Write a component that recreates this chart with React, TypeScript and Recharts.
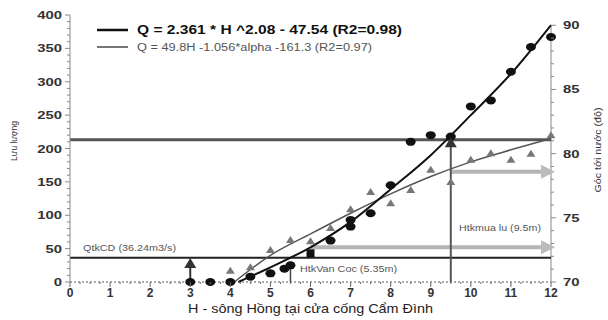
import { ComposedChart, Line, Scatter, XAxis, YAxis, ReferenceLine } from 'recharts'

// measured points (circles = Q do duoc, triangles = Q theo goc toi nuoc)
const circleH = [3, 3.5, 4, 4.5, 5, 5.35, 5.5, 6.5, 7, 7, 7.5, 8, 8.5, 9, 9.5, 10, 10.5, 11, 11.5, 12]
const circleQ = [0, 0, 0, 8, 13, 20, 25, 62, 83, 93, 103, 145, 210, 220, 218, 263, 272, 315, 352, 367]
const triH = [4, 4.5, 5, 5.5, 6, 6.5, 7, 7.5, 8, 8.5, 9, 9.5, 10, 10.5, 11, 11.5, 12]
const triQ = [17, 22, 48, 63, 61, 81, 109, 135, 118, 138, 168, 150, 183, 193, 183, 192, 220]
const squareH = [6]
const squareQ = [43]

// fitted curves
const fit1H = [4.2, 5, 6, 7, 8, 9, 10, 11, 12]
const fit1Q = [0, 22, 52, 90, 139, 190, 250, 312, 385]
const fit2H = [4.1, 5, 6, 7, 8, 9, 10, 11, 12]
const fit2Q = [0, 40, 72, 103, 132, 158, 180, 198, 215]

// markers / thresholds
const upArrowH = [3, 9.5]
const upArrowQ = [27, 208]
const sideArrowH = [12, 12]
const sideArrowQ = [165, 52]
const qMua = 213
const qTkCD = 36.24

const xMajor = [0, 1, 2, 3, 4, 5, 6, 7, 8, 9, 10, 11, 12]
const leftMajor = [0, 50, 100, 150, 200, 250, 300, 350, 400]
const rightMajor = [70, 75, 80, 85, 90]

const xTicks: number[] = []
for (let i = 0; i <= 48; i++) xTicks.push(i / 4)
const leftTicks: number[] = []
for (let i = 0; i <= 40; i++) leftTicks.push(i * 10)
const rightTicks: number[] = []
for (let i = 70; i <= 90; i++) rightTicks.push(i)

const zip = (h: number[], q: number[]) => h.map((v, i) => ({ h: v, q: q[i] }))

const circles = zip(circleH, circleQ)
const triangles = zip(triH, triQ)
const squares = zip(squareH, squareQ)
const fit1 = zip(fit1H, fit1Q)
const fit2 = zip(fit2H, fit2Q)
const upArrows = zip(upArrowH, upArrowQ)
const sideArrows = zip(sideArrowH, sideArrowQ)

const FONT = '"Liberation Sans", Arial, sans-serif'

const LeftTick = (props: any) => {
  const { x, y, payload } = props
  const v = payload.value
  const major = leftMajor.includes(v)
  return (
    <g>
      <line x1={x} x2={x - (major ? 5 : 3)} y1={y} y2={y} stroke="#888" />
      {major && (
        <text transform={`translate(${x - 8},${y + 4}) scale(1.35,1)`} textAnchor="end" fontSize={11} fontWeight={700} fill="#333" fontFamily={FONT}>
          {v}
        </text>
      )}
    </g>
  )
}

const RightTick = (props: any) => {
  const { x, y, payload } = props
  const v = payload.value
  const major = rightMajor.includes(v)
  return (
    <g>
      <line x1={x} x2={x + (major ? 5 : 3)} y1={y} y2={y} stroke="#888" />
      {major && (
        <text transform={`translate(${x + 12},${y + 4}) scale(1.35,1)`} textAnchor="start" fontSize={11} fontWeight={700} fill="#333" fontFamily={FONT}>
          {v}
        </text>
      )}
    </g>
  )
}

const BottomTick = (props: any) => {
  const { x, y, payload } = props
  const v = payload.value
  const major = xMajor.includes(v)
  return (
    <g>
      <line x1={x} x2={x} y1={y} y2={y + (major ? 5 : 2)} stroke="#666" />
      {major && (
        <text x={x} y={y + 15} textAnchor="middle" fontSize={12} fontWeight={700} fill="#333" fontFamily={FONT}>
          {v}
        </text>
      )}
    </g>
  )
}

const Dot = (p: any) => <ellipse cx={p.cx} cy={p.cy} rx={5} ry={4} fill="#111" />
const Tri = (p: any) => (
  <path d={`M${p.cx},${p.cy - 4} L${p.cx + 4.5},${p.cy + 3} L${p.cx - 4.5},${p.cy + 3} Z`} fill="#777" />
)
const Sq = (p: any) => <rect x={p.cx - 4} y={p.cy - 4} width={8} height={8} fill="#111" />
const UpArrow = (p: any) => (
  <path d={`M${p.cx},${p.cy - 6} L${p.cx + 6},${p.cy + 4} L${p.cx - 6},${p.cy + 4} Z`} fill="#333" />
)
const SideArrow = (p: any) => (
  <path d={`M${p.cx + 4},${p.cy} L${p.cx - 10},${p.cy - 7} L${p.cx - 10},${p.cy + 7} Z`} fill="#bbb" />
)

export default function App() {
  return (
    <div style={{ position: 'absolute', left: 0, top: 0, width: 608, height: 320, background: '#fff' }}>
      <ComposedChart width={608} height={320} margin={{ top: 15, right: 0, bottom: 0, left: 0 }}>
        <XAxis
          type="number"
          dataKey="h"
          domain={[0, 12]}
          ticks={xTicks}
          interval={0}
          height={38}
          tickSize={0}
          tickMargin={0}
          tickLine={false}
          axisLine={{ stroke: '#555', strokeDasharray: '2 2' }}
          tick={BottomTick}
        />
        <YAxis
          yAxisId="left"
          domain={[0, 400]}
          ticks={leftTicks}
          interval={0}
          width={70}
          tickSize={0}
          tickMargin={0}
          tickLine={false}
          axisLine={{ stroke: '#888' }}
          tick={LeftTick}
        />
        <YAxis
          yAxisId="right"
          orientation="right"
          domain={[70, 90.8]}
          allowDataOverflow
          ticks={rightTicks}
          interval={0}
          width={57}
          tickSize={0}
          tickMargin={0}
          tickLine={false}
          axisLine={false}
          tick={RightTick}
        />

        <ReferenceLine yAxisId="left" segment={[{ x: 12, y: 0 }, { x: 12, y: 385 }]} stroke="#888" />
        <ReferenceLine yAxisId="left" y={qMua} stroke="#555" strokeWidth={3} />
        <ReferenceLine yAxisId="left" y={qTkCD} stroke="#222" strokeWidth={2} />
        <ReferenceLine yAxisId="left" segment={[{ x: 9.5, y: 165 }, { x: 11.75, y: 165 }]} stroke="#b5b5b5" strokeWidth={4} />
        <ReferenceLine yAxisId="left" segment={[{ x: 6, y: 52 }, { x: 11.75, y: 52 }]} stroke="#b5b5b5" strokeWidth={4} />
        <ReferenceLine yAxisId="left" segment={[{ x: 9.5, y: 0 }, { x: 9.5, y: qMua }]} stroke="#555" strokeWidth={2} />
        <ReferenceLine yAxisId="left" segment={[{ x: 5.5, y: 0 }, { x: 5.5, y: 30 }]} stroke="#444" strokeWidth={1.5} />
        <ReferenceLine yAxisId="left" segment={[{ x: 3, y: 0 }, { x: 3, y: 27 }]} stroke="#333" strokeWidth={2} />

        <Line yAxisId="left" data={fit2} dataKey="q" type="monotone" stroke="#555" strokeWidth={1.5} dot={false} isAnimationActive={false} />
        <Line yAxisId="left" data={fit1} dataKey="q" type="monotone" stroke="#111" strokeWidth={2} dot={false} isAnimationActive={false} />

        <Scatter yAxisId="left" data={sideArrows} dataKey="q" shape={SideArrow} isAnimationActive={false} />
        <Scatter yAxisId="left" data={triangles} dataKey="q" shape={Tri} isAnimationActive={false} />
        <Scatter yAxisId="left" data={circles} dataKey="q" shape={Dot} isAnimationActive={false} />
        <Scatter yAxisId="left" data={squares} dataKey="q" shape={Sq} isAnimationActive={false} />
        <Scatter yAxisId="left" data={upArrows} dataKey="q" shape={UpArrow} isAnimationActive={false} />
      </ComposedChart>

      <svg width={608} height={320} style={{ position: 'absolute', left: 0, top: 0, pointerEvents: 'none' }} fontFamily={FONT}>
        <line x1={97} x2={128} y1={30} y2={30} stroke="#111" strokeWidth={2.5} />
        <text x={137} y={34} fontSize={12} fontWeight={700} fill="#111" textLength={265} lengthAdjust="spacingAndGlyphs">
          Q = 2.361 * H ^2.08 - 47.54 (R2=0.98)
        </text>
        <line x1={97} x2={128} y1={47} y2={47} stroke="#777" strokeWidth={2} />
        <text x={137} y={51} fontSize={10} fill="#555" textLength={235} lengthAdjust="spacingAndGlyphs">
          Q = 49.8H -1.056*alpha -161.3  (R2=0.97)
        </text>

        <text x={83} y={251} fontSize={9.5} fill="#555" textLength={93} lengthAdjust="spacingAndGlyphs">QtkCD (36.24m3/s)</text>
        <text x={300} y={272} fontSize={9.5} fill="#555" textLength={97} lengthAdjust="spacingAndGlyphs">HtkVan Coc (5.35m)</text>
        <text x={459} y={231} fontSize={9.5} fill="#555" textLength={82} lengthAdjust="spacingAndGlyphs">Htkmua lu (9.5m)</text>

        <text transform="translate(17,141) rotate(-90)" textAnchor="middle" fontSize={9.5} fill="#333" textLength={40} lengthAdjust="spacingAndGlyphs">
          Lưu lượng
        </text>
        <text transform="translate(601,150) rotate(-90)" textAnchor="middle" fontSize={9.5} fill="#333" textLength={85} lengthAdjust="spacingAndGlyphs">
          Góc tới nước (độ)
        </text>
        <text x={188} y={313} fontSize={13} fill="#222" textLength={245} lengthAdjust="spacingAndGlyphs">
          H - sông Hồng tại cửa cống Cẩm Đình
        </text>
      </svg>
    </div>
  )
}
